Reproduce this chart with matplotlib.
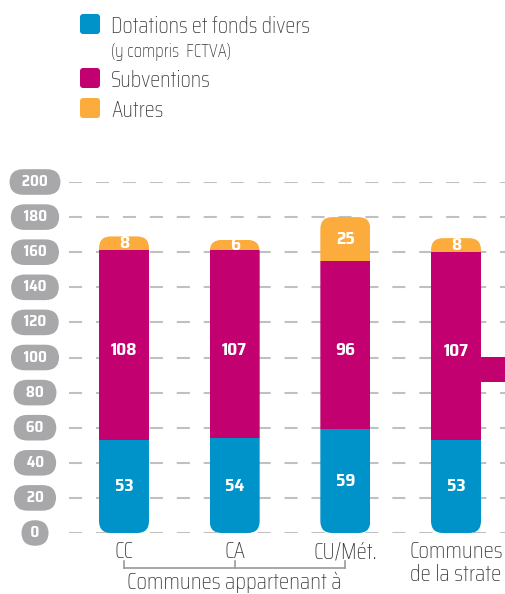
import matplotlib
matplotlib.use("Agg")
import matplotlib.pyplot as plt
import matplotlib.transforms as mtransforms
from matplotlib.patches import FancyBboxPatch, Rectangle
import numpy as np

# Data
categories = ["CC", "CA", "CU/Mét.", "Communes\nde la strate"]
dotations = [53, 54, 59, 53]
subventions = [108, 107, 96, 107]
autres = [8, 6, 25, 8]
y_ticks = [0, 20, 40, 60, 80, 100, 120, 140, 160, 180, 200]

BLUE = "#0093c9"
MAGENTA = "#c2006f"
ORANGE = "#fbac3d"
GREY_PILL = "#a8a8ab"
GRID = "#c0c0c0"
TEXT = "#3a3a3a"

LABEL_FONT = ["Saira Condensed", "DejaVu Sans"]
NUM_FONT = ["Saira SemiCondensed", "DejaVu Sans"]

W, H = 506, 594
plt.rcParams["lines.scale_dashes"] = False
fig = plt.figure(figsize=(W / 100, H / 100), dpi=100)

# axes: y=0 at pixel 533, y=200 at pixel 182, full width
ax = fig.add_axes([0, (H - 533) / H, 1, (533 - 182) / H])
ax.set_ylim(0, 200)
px_per_x = 110.67
x0_px = 124
ax.set_xlim(-x0_px / px_per_x, (W - x0_px) / px_per_x)
ax.axis("off")

x = np.arange(len(categories))
bar_w = 50 / px_per_x
px_per_y = (533 - 182) / 200

# dashed gridlines
for v in y_ticks:
    ax.plot([(69 - x0_px) / px_per_x, (W - x0_px) / px_per_x], [v, v],
            color=GRID, lw=1.5, linestyle=(0, (9.4, 10.0)), zorder=1,
            dash_capstyle="butt")

# y tick pills
pill_tr = mtransforms.blended_transform_factory(fig.transFigure, ax.transData)
for v in y_ticks:
    txt = f"  {v}  " if v >= 10 else f" {v} "
    ax.text(35 / W, v, txt, transform=pill_tr, ha="center", va="center",
            fontsize=11, fontweight="bold", color="white", family=NUM_FONT,
            bbox=dict(boxstyle="round,pad=0.38,rounding_size=0.9",
                      fc=GREY_PILL, ec="none"))

# stacked bars with rounded bottom and top
dot = np.array(dotations)
sub = np.array(subventions)
aut = np.array(autres)
totals = dot + sub + aut
r_px = 12
for i in range(len(categories)):
    clip = FancyBboxPatch((x[i] - bar_w / 2, 0), bar_w, totals[i],
                          boxstyle=f"round,pad=0,rounding_size={r_px / px_per_x}",
                          mutation_aspect=px_per_x / px_per_y,
                          transform=ax.transData, fc="none", ec="none")
    segs = [(0, dot[i], BLUE), (dot[i], sub[i], MAGENTA), (dot[i] + sub[i], aut[i], ORANGE)]
    for bottom, h, col in segs:
        b = ax.bar(x[i], h, bottom=bottom, width=bar_w, color=col, zorder=3,
                   linewidth=0)
        b[0].set_clip_path(clip)
    label_kw = dict(ha="center", va="center", color="white", fontsize=12.5,
                    fontweight="bold", family=NUM_FONT, zorder=5)
    ax.text(x[i], dot[i] / 2, str(dot[i]), **label_kw)
    ax.text(x[i], dot[i] + sub[i] / 2 - 3, str(sub[i]), **label_kw)
    ax.text(x[i], dot[i] + sub[i] + aut[i] / 2, str(aut[i]), **label_kw)

# magenta tab leaving the last bar to the right
x_right = (W - x0_px) / px_per_x
ax.add_patch(Rectangle((x[-1] + bar_w / 2 - 0.01, 86), x_right - x[-1] - bar_w / 2 + 0.02, 14,
                       color=MAGENTA, lw=0, zorder=3))

# category labels
lab_tr = mtransforms.blended_transform_factory(ax.transData, fig.transFigure)
for i, c in enumerate(categories):
    for j, line in enumerate(c.split("\n")):
        ax.text(x[i], 1 - (558 + j * 23) / H, line, transform=lab_tr,
                ha="center", va="baseline", fontsize=17, fontweight="light",
                color=TEXT, family=LABEL_FONT)

# bracket under the first three categories
by = 1 - 568 / H
bt = 1 - 561 / H
ax.plot([x[0], x[2]], [by, by], transform=lab_tr, color="#9a9a9a", lw=1.2, clip_on=False)
for i in range(3):
    ax.plot([x[i], x[i]], [by, bt], transform=lab_tr, color="#9a9a9a", lw=1.2, clip_on=False)
ax.text(x[1], 1 - 589 / H, "Communes appartenant à", transform=lab_tr,
        ha="center", va="baseline", fontsize=17, fontweight="light",
        color=TEXT, family=LABEL_FONT)

# legend
legend_items = [(BLUE, 14, "Dotations et fonds divers"),
                (MAGENTA, 68, "Subventions"),
                (ORANGE, 98, "Autres")]
for col, top, label in legend_items:
    fig.patches.append(FancyBboxPatch((80 / W, 1 - (top + 20) / H), 20 / W, 20 / H,
                                      boxstyle="round,pad=0,rounding_size=0.006",
                                      mutation_aspect=W / H,
                                      transform=fig.transFigure, fc=col, ec="none"))
    fig.text(111 / W, 1 - (top + 19) / H, label, ha="left", va="baseline",
             fontsize=16.5, fontweight="light", color=TEXT, family=LABEL_FONT)
fig.text(111 / W, 1 - 57 / H, "(y compris  FCTVA)", ha="left", va="baseline",
         fontsize=13.5, fontweight="light", color=TEXT, family=LABEL_FONT)

fig.savefig("out.png", dpi=100)
